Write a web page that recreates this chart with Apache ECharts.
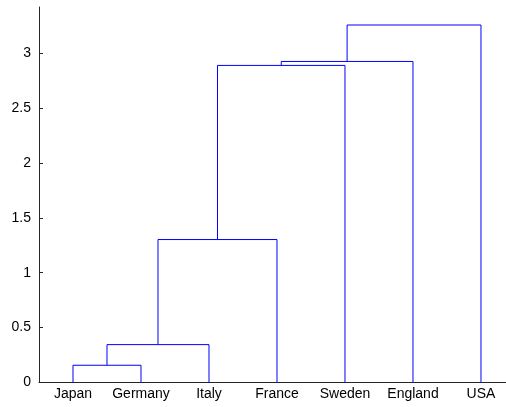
<!DOCTYPE html>
<html>
<head>
<meta charset="utf-8">
<script src="https://cdn.jsdelivr.net/npm/echarts@6/dist/echarts.min.js"></script>
<style>
html,body{margin:0;padding:0;background:#fff;}
#chart{width:506px;height:407px;}
</style>
</head>
<body>
<div id="chart"></div>
<script>
// Leaf labels in dendrogram order
const leafLabels = ['Japan', 'Germany', 'Italy', 'France', 'Sweden', 'England', 'USA'];
// Linkage: merged cluster ids (1..7 leaves, 8.. clusters) and merge heights
const linkLeft  = [1, 8, 9, 10, 11, 12];
const linkRight = [2, 3, 4, 5, 6, 7];
const linkHeights = [0.157, 0.345, 1.302, 2.888, 2.924, 3.256];
const yTicks = [0, 0.5, 1, 1.5, 2, 2.5, 3];
const yMax = 3.42;
// visible x range (the original axes is cut off at the right edge)
const xMin = 0.5, xMax = 7.368;

// compute node positions from the linkage
const nodeX = {}, nodeH = {};
leafLabels.forEach((_, i) => { nodeX[i + 1] = i + 1; nodeH[i + 1] = 0; });
const series = [];
linkLeft.forEach((a, k) => {
  const b = linkRight[k], h = linkHeights[k];
  const id = leafLabels.length + k + 1;
  nodeX[id] = (nodeX[a] + nodeX[b]) / 2;
  nodeH[id] = h;
  series.push({
    type: 'line',
    data: [[nodeX[a], nodeH[a]], [nodeX[a], h], [nodeX[b], h], [nodeX[b], nodeH[b]]],
    symbol: 'none',
    silent: true,
    lineStyle: { color: '#0000ff', width: 1 },
    animation: false
  });
});

const chart = echarts.init(document.getElementById('chart'), null, { renderer: 'canvas' });
const font = { fontFamily: '"Liberation Sans", Arial, sans-serif', fontSize: 14, color: '#000' };
chart.setOption({
  animation: false,
  grid: { left: 39, right: 0, top: 7, bottom: 24.5, containLabel: false },
  xAxis: {
    type: 'value', min: xMin, max: xMax,
    axisLine: { show: true, lineStyle: { color: '#262626', width: 1 } },
    axisTick: { show: false },
    splitLine: { show: false },
    axisLabel: Object.assign({
      margin: 5,
      customValues: leafLabels.map((_, i) => i + 1),
      formatter: v => leafLabels[Math.round(v) - 1] || ''
    }, font)
  },
  yAxis: {
    type: 'value', min: 0, max: yMax,
    axisLine: { show: true, lineStyle: { color: '#262626', width: 1 } },
    axisTick: { show: true, inside: true, length: 4, customValues: yTicks, lineStyle: { color: '#262626' } },
    splitLine: { show: false },
    axisLabel: Object.assign({
      margin: 8,
      customValues: yTicks,
      formatter: v => String(v)
    }, font)
  },
  series: series
});
</script>
</body>
</html>
